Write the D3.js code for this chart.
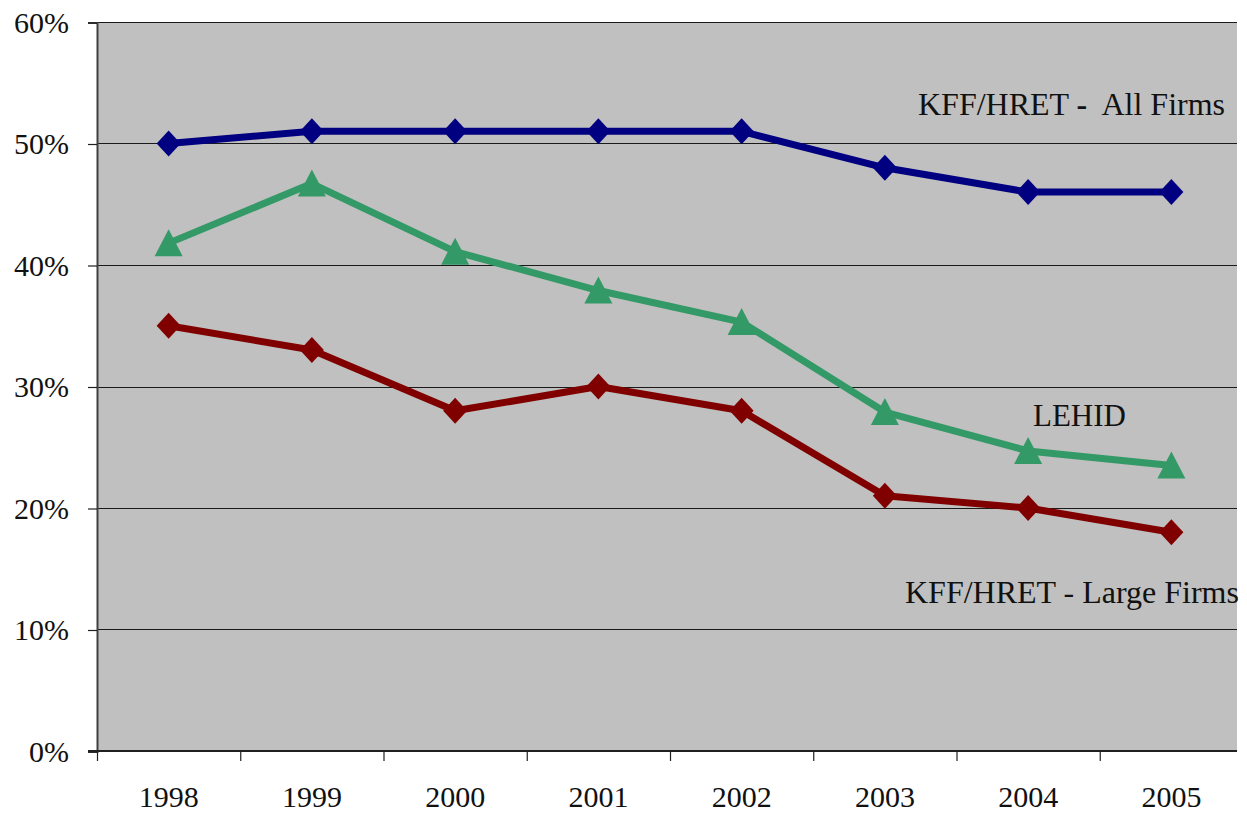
<!DOCTYPE html>
<html>
<head>
<meta charset="utf-8">
<script src="https://cdn.jsdelivr.net/npm/d3@7"></script>
<style>
  body { margin: 0; background: #ffffff; }
  svg { display: block; font-family: "Liberation Serif", "Times New Roman", serif; }
  text { white-space: pre; }
</style>
</head>
<body>
<svg id="chart" width="1247" height="816"></svg>
<script>
// chart data
const years = ["1998", "1999", "2000", "2001", "2002", "2003", "2004", "2005"];
const allFirms = [0.50, 0.51, 0.51, 0.51, 0.51, 0.48, 0.46, 0.46];
const lehid = [0.418, 0.467, 0.411, 0.379, 0.353, 0.279, 0.247, 0.235];
const largeFirms = [0.35, 0.33, 0.28, 0.30, 0.28, 0.21, 0.20, 0.18];
const yTicks = [0, 0.1, 0.2, 0.3, 0.4, 0.5, 0.6];

const series = [
    { name: "all", values: allFirms, color: "#000080", marker: "diamond" },
    { name: "lehid", values: lehid, color: "#339966", marker: "triangle" },
    { name: "large", values: largeFirms, color: "#800000", marker: "diamond" }
];

// plot area
const plotLeft = 97, plotRight = 1243, plotTop = 22, plotBottom = 751;
const visibleRight = 1237;

const svg = d3.select("#chart");

const xScale = d3.scaleBand().domain(years).range([plotLeft, plotRight]);
const yScale = d3.scaleLinear().domain([0, 0.6]).range([plotBottom, plotTop]);

// grey background
svg.append("rect")
    .attr("x", plotLeft)
    .attr("y", plotTop)
    .attr("width", visibleRight - plotLeft)
    .attr("height", plotBottom - plotTop)
    .attr("fill", "#c0c0c0");

// gridlines
svg.append("g")
    .selectAll("line")
    .data(yTicks.filter(d => d > 0))
    .enter().append("line")
    .attr("x1", plotLeft)
    .attr("x2", visibleRight)
    .attr("y1", d => Math.round(yScale(d)) + 0.5)
    .attr("y2", d => Math.round(yScale(d)) + 0.5)
    .attr("stroke", "#1a1a1a")
    .attr("stroke-width", 1.2);

// y axis
const yAxis = svg.append("g")
    .attr("transform", `translate(${plotLeft} 0.5)`)
    .call(d3.axisLeft(yScale)
        .tickValues(yTicks)
        .tickFormat(d => `${Math.round(d * 100)}%`)
        .tickSize(9)
        .tickPadding(19));
yAxis.select(".domain").attr("stroke", "#404040").attr("stroke-width", 2);
yAxis.selectAll(".tick line").attr("stroke", "#202020").attr("stroke-width", 1.2);
yAxis.selectAll(".tick text")
    .style("font-family", "'Liberation Serif', serif")
    .style("font-size", "30px")
    .attr("fill", "#111");

// x axis
const xAxis = svg.append("g")
    .attr("transform", `translate(0 ${plotBottom})`);
xAxis.append("line")
    .attr("x1", plotLeft - 9)
    .attr("x2", visibleRight)
    .attr("y1", 0)
    .attr("y2", 0)
    .attr("stroke", "#202020")
    .attr("stroke-width", 2);
xAxis.selectAll(".xtick")
    .data(years)
    .enter().append("line")
    .attr("class", "xtick")
    .attr("x1", d => xScale(d) + 0.5)
    .attr("x2", d => xScale(d) + 0.5)
    .attr("y1", 0)
    .attr("y2", 10)
    .attr("stroke", "#202020")
    .attr("stroke-width", 1.2);
xAxis.selectAll(".xlabel")
    .data(years)
    .enter().append("text")
    .attr("class", "xlabel")
    .attr("x", d => xScale(d) + xScale.bandwidth() / 2)
    .attr("y", 56)
    .attr("text-anchor", "middle")
    .style("font-size", "30px")
    .attr("fill", "#111")
    .text(d => d);

// lines and markers
const line = d3.line()
    .x((d, i) => xScale(years[i]) + xScale.bandwidth() / 2)
    .y(d => yScale(d));

const diamond = "M0,-13L12,0L0,13L-12,0Z";
const triangle = "M0,-14L14,13L-14,13Z";

series.forEach(s => {
    const g = svg.append("g").attr("class", "series-" + s.name);
    g.append("path")
        .datum(s.values)
        .attr("d", line)
        .attr("fill", "none")
        .attr("stroke", s.color)
        .attr("stroke-width", 7)
        .attr("stroke-linejoin", "round");
    g.selectAll("path.marker")
        .data(s.values)
        .enter().append("path")
        .attr("class", "marker")
        .attr("transform", (d, i) =>
            `translate(${xScale(years[i]) + xScale.bandwidth() / 2},${yScale(d)})`)
        .attr("d", s.marker === "diamond" ? diamond : triangle)
        .attr("fill", s.color);
});

// series labels
const label1 = svg.append("text")
    .attr("x", 918)
    .attr("y", 115)
    .style("font-size", "32px")
    .attr("fill", "#111");
label1.append("tspan").text("KFF/HRET ");
label1.append("tspan").style("font-weight", "bold").text("-");
label1.append("tspan").text("  All Firms");

svg.append("text")
    .attr("x", 1033)
    .attr("y", 426)
    .style("font-size", "31px")
    .attr("fill", "#111")
    .text("LEHID");

svg.append("text")
    .attr("x", 905)
    .attr("y", 603)
    .style("font-size", "32px")
    .attr("fill", "#111")
    .text("KFF/HRET - Large Firms");
</script>
</body>
</html>
